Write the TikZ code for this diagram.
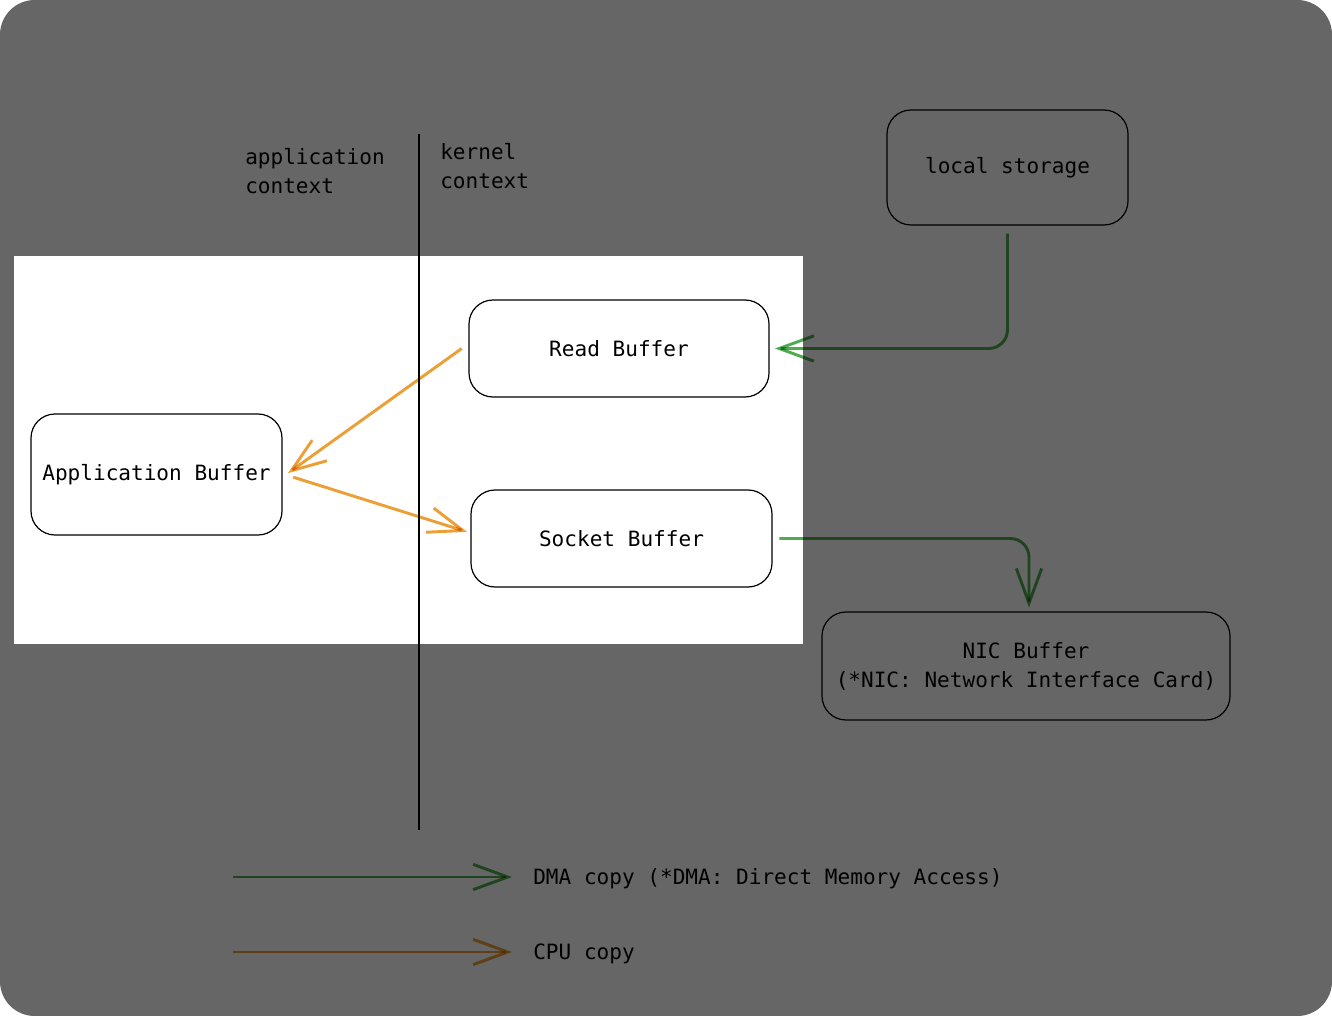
\documentclass[tikz,border=0pt]{standalone}
\usepackage{fontspec}
\setmainfont{DejaVu Sans Mono}
\usetikzlibrary{arrows.meta, positioning}

\definecolor{bggray}{HTML}{666666}
\definecolor{dmagreen}{RGB}{80,170,80}
\definecolor{cpuorange}{RGB}{235,160,55}

\begin{document}
\begin{tikzpicture}[x=0.75pt, y=-0.75pt]
			\tikzstyle{buf}=[
			rectangle, rounded corners=18pt, draw=black, line width=0.9pt,
			font=\fontsize{15.8}{21.75}\selectfont, align=center
			]
			\tikzstyle{lbl}=[
			inner sep=0pt, align=left,
			font=\fontsize{15.8}{21.75}\selectfont
			]
			\tikzstyle{dma}=[
			draw=dmagreen, line width=2.2pt, rounded corners=14pt,
			-{Straight Barb[length=26pt, width=19pt, line width=2.2pt]}
			]
			\tikzstyle{cpu}=[
			draw=cpuorange, line width=2.2pt,
			-{Straight Barb[length=26pt, width=19pt, line width=2.2pt]}
			]
			
			\useasboundingbox (0,0) rectangle (1332,1016);
			\fill[bggray, rounded corners=26pt] (0,0) rectangle (1332,1016);
			\fill[white] (14,256) rectangle (803,644);
			
			% context divider
			\coordinate (top) at (419,134);
			\coordinate (bot) at (419,830);
			\draw[line width=0.9pt] (top) -- (bot);
			\node[lbl, anchor=west] (appctx) at (245,171.5) {application\\context};
			\node[lbl, anchor=west] (kerctx) at (440,166.5) {kernel\\context};
			
			% buffers
			\node[buf, minimum width=180.75pt, minimum height=86.25pt] (disk) at (1007.5,167.5) {local storage};
			\node[buf, minimum width=225pt, minimum height=72.75pt] (rd) at (619,348.5) {Read Buffer};
			\node[buf, minimum width=188.25pt, minimum height=90.75pt] (app) at (156.5,474.5) {Application Buffer};
			\node[buf, minimum width=225.75pt, minimum height=72.75pt] (sock) at (621.5,538.5) {Socket Buffer};
			\node[buf, minimum width=306pt, minimum height=81pt] (nic) at (1026,666) {NIC Buffer\\(*NIC: Network Interface Card)};
			
			% legend
			\node[lbl, anchor=west] (dmatxt) at (533,878.5) {DMA copy (*DMA: Direct Memory Access)};
			\node[lbl, anchor=west] (cputxt) at (533,953.5) {CPU copy};
			\coordinate (dmastart) at (233,877);
			\coordinate (dmaend) at (512,877);
			\coordinate (cpustart) at (233,952);
			\coordinate (cpuend) at (512,952);
			
			\begin{scope}[blend mode=multiply]
				\draw[dma] ([yshift=-6pt]disk.south) |- ([xshift=4pt]rd.east);
				\draw[dma] ([xshift=5pt]sock.east) -| ([xshift=2.25pt, yshift=3pt]nic.north);
				\draw[cpu] ([xshift=-5pt]rd.west) -- ([xshift=4pt, yshift=1pt]app.east);
				\draw[cpu] ([xshift=8pt, yshift=-2pt]app.east) -- ([xshift=-2.5pt, yshift=5pt]sock.west);
				\draw[dma] (dmastart) -- (dmaend);
				\draw[cpu] (cpustart) -- (cpuend);
			\end{scope}
		\end{tikzpicture}
\end{document}
